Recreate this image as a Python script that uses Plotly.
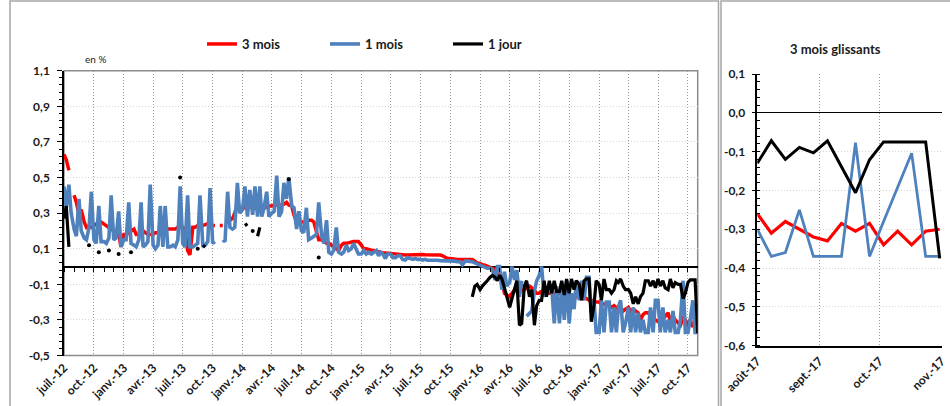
import pandas as pd
import plotly.graph_objects as go

# ---------------- data (main chart) ----------------
# four readings per month (around the 1st, 8th, 16th and 23rd), July 2012 -> October 2017
mois3 = [
    [0.63, 0.60, 0.54, None], [0.40, 0.36, 0.29, 0.32], [0.25, 0.22, 0.23, 0.22],
    [0.23, 0.24, 0.25, 0.25], [0.24, 0.23, 0.22, 0.21], [0.20, 0.20, 0.19, 0.11],
    [0.18, 0.18, 0.19, 0.20], [0.21, 0.18, 0.18, 0.19], [0.20, 0.19, 0.18, 0.18],
    [0.18, 0.19, 0.19, 0.20], [0.20, 0.20, 0.21, 0.21], [0.21, 0.21, 0.22, 0.22],
    [0.22, 0.21, 0.09, 0.065], [0.22, 0.22, 0.23, 0.23], [0.23, 0.235, 0.24, 0.23],
    [0.23, 0.23, None, 0.23], [0.23, None, 0.24, 0.26], [0.27, 0.30, 0.355, 0.33],
    [0.33, 0.33, 0.33, 0.335], [0.33, 0.325, 0.32, 0.32], [0.32, 0.33, 0.336, 0.34],
    [0.34, 0.345, 0.345, 0.345], [0.345, 0.35, 0.36, 0.345], [0.34, 0.29, 0.25, 0.25],
    [0.25, 0.25, 0.25, 0.26], [0.26, 0.25, 0.205, 0.15], [0.15, 0.14, 0.13, 0.13],
    [0.12, 0.11, 0.10, 0.09], [0.12, 0.13, 0.13, 0.134], [0.135, 0.14, 0.14, 0.14],
    [0.12, 0.10, 0.10, 0.095], [0.092, 0.09, 0.085, 0.082], [0.08, 0.078, 0.076, 0.074],
    [0.074, 0.07, 0.07, 0.068], [0.066, 0.064, 0.064, 0.065], [0.066, 0.068, 0.07, 0.07],
    [0.07, 0.068, 0.066, 0.066], [0.065, 0.064, 0.064, 0.064], [0.064, 0.06, 0.05, 0.045],
    [0.045, 0.042, 0.04, 0.04], [0.04, 0.04, 0.04, 0.04], [0.04, 0.04, 0.03, 0.02],
    [0.017, 0.01, 0.008, 0.0], [-0.005, -0.01, -0.016, -0.04], [-0.05, -0.075, -0.15, -0.16],
    [-0.17, -0.15, -0.13, -0.14], [-0.14, -0.135, -0.13, -0.12], [-0.11, -0.12, -0.14, -0.15],
    [-0.15, -0.14, -0.15, -0.15], [-0.15, -0.15, -0.15, -0.15], [-0.15, -0.16, -0.16, -0.16],
    [-0.16, -0.16, -0.17, -0.17], [-0.17, -0.18, -0.18, -0.18], [-0.19, -0.19, -0.20, -0.20],
    [-0.20, -0.21, -0.21, -0.21], [-0.22, -0.23, -0.22, -0.23], [-0.24, -0.23, -0.25, -0.24],
    [-0.23, -0.25, -0.24, -0.25], [-0.26, -0.30, -0.27, -0.26], [-0.26, -0.28, -0.30, -0.30],
    [-0.31, -0.30, -0.26, -0.28], [-0.26, -0.31, -0.28, -0.30], [-0.32, -0.33, -0.29, -0.30],
    [-0.34, -0.30, -0.34, -0.31],
]
mois3_fin = -0.30

mois1 = [
    [0.45, 0.33, 0.46, 0.30], [0.21, 0.17, 0.38, 0.20], [0.16, 0.15, 0.22, 0.42],
    [0.15, 0.13, 0.34, 0.14], [0.14, 0.13, 0.16, 0.40], [0.15, 0.16, 0.31, 0.11],
    [0.15, 0.15, 0.36, 0.13], [0.12, 0.11, 0.15, 0.36], [0.11, 0.12, 0.14, 0.46],
    [0.12, 0.10, 0.12, 0.34], [0.11, 0.34, 0.11, 0.11], [0.12, 0.11, 0.15, 0.45],
    [0.13, 0.11, 0.40, 0.11], [0.11, 0.12, 0.13, 0.40], [0.11, 0.12, 0.14, 0.44],
    [0.13, 0.14, None, None], [0.15, 0.14, 0.42, 0.22], [0.21, 0.22, 0.47, 0.30],
    [0.32, 0.45, 0.28, 0.43], [0.29, 0.45, 0.28, 0.45], [0.28, 0.33, 0.42, 0.28],
    [0.30, 0.31, 0.51, 0.28], [0.31, 0.47, 0.38, 0.50], [0.34, 0.33, 0.21, 0.31],
    [0.20, 0.19, 0.33, 0.15], [0.16, 0.17, 0.18, 0.36], [0.17, 0.13, 0.26, 0.08],
    [0.07, 0.09, 0.22, 0.08], [0.07, 0.08, 0.12, 0.09], [0.10, 0.13, 0.10, 0.07],
    [0.07, 0.09, 0.07, 0.08], [0.07, 0.08, 0.09, 0.06], [0.08, 0.07, 0.045, 0.07],
    [0.07, 0.05, 0.05, 0.06], [0.06, 0.04, 0.036, 0.05], [0.045, 0.04, 0.045, 0.04],
    [0.04, 0.036, 0.04, 0.035], [0.035, 0.036, 0.033, 0.035], [0.033, 0.033, 0.03, 0.03],
    [0.03, 0.028, 0.03, 0.027], [0.027, 0.01, 0.03, 0.03], [0.03, 0.027, 0.02, 0.015],
    [0.01, 0.0, -0.005, -0.01], [-0.01, -0.016, -0.076, 0.0], [0.0, -0.13, -0.03, -0.11],
    [-0.09, 0.0, -0.076, -0.02], [-0.17, -0.08, None, -0.28], [-0.26, -0.25, -0.14, -0.08],
    [-0.05, 0.0, -0.17, -0.13], [-0.10, -0.11, -0.32, -0.11], [-0.32, -0.12, -0.30, -0.08],
    [-0.32, -0.15, -0.24, -0.08], [-0.19, -0.08, -0.19, -0.06], [-0.06, -0.26, -0.19, -0.37],
    [-0.37, -0.19, -0.37, -0.20], [-0.20, -0.37, -0.23, -0.37], [-0.23, -0.19, -0.37, -0.32],
    [-0.23, -0.37, -0.23, -0.37], [-0.26, -0.37, -0.30, -0.37], [-0.37, -0.23, -0.37, -0.19],
    [-0.19, -0.37, -0.23, -0.37], [-0.30, -0.37, -0.25, -0.37], [-0.37, -0.30, -0.08, -0.37],
    [-0.37, -0.30, -0.19, -0.37],
]
mois1_fin = -0.37

N = None
jour1 = [
    [0.27, 0.34, 0.11, N], [N, N, N, N], [N, N, 0.12, N], [N, N, 0.08, N],
    [N, N, 0.09, N], [N, N, 0.07, N], [N, N, N, 0.08], [N, N, N, N],
    [N, N, N, N], [N, N, N, N], [N, N, N, N], [N, N, N, 0.50],
    [N, N, N, N], [N, N, 0.10, N], [0.12, 0.11, N, N], [N, N, N, N],
    [N, N, N, N], [N, N, N, N], [N, 0.23, 0.24, N], [0.20, N, 0.17, 0.22],
    [N, N, N, N], [N, N, N, N], [N, N, N, 0.49], [N, N, N, N],
    [N, N, N, N], [N, N, N, 0.05], [N, N, N, N], [N, N, N, N],
    [N, N, N, N], [N, N, N, N], [N, N, N, N], [N, N, N, N],
    [N, N, N, N], [N, N, N, N], [N, N, N, N], [N, N, N, N],
    [N, N, N, N], [N, N, N, N], [N, N, N, N], [N, N, N, N],
    [N, N, N, N], [N, -0.17, -0.11, -0.10],
    [-0.13, -0.11, -0.09, -0.08], [-0.06, -0.05, -0.06, -0.08], [-0.05, -0.07, -0.12, -0.17],
    [-0.23, -0.18, -0.12, -0.08], [-0.33, -0.32, -0.11, -0.08], [-0.17, -0.13, -0.33, -0.22],
    [-0.19, -0.19, -0.08, -0.17], [-0.08, -0.15, -0.08, -0.14], [-0.14, -0.08, -0.16, -0.07],
    [-0.15, -0.07, -0.13, -0.08], [-0.10, -0.19, -0.08, -0.07], [-0.07, -0.31, -0.22, -0.08],
    [-0.10, -0.19, -0.07, -0.13], [-0.13, -0.15, -0.13, -0.08], [-0.09, -0.07, -0.11, -0.13],
    [-0.13, -0.15, -0.21, -0.17], [-0.21, -0.17, -0.15, -0.08], [-0.08, -0.11, -0.08, -0.12],
    [-0.07, -0.11, -0.08, -0.12], [-0.13, -0.07, -0.12, -0.09], [-0.10, -0.10, -0.18, -0.15],
    [-0.09, -0.075, -0.075, -0.075],
]
jour1_fin = -0.375

x_ticktext = ["juil.-12", "oct.-12", "janv.-13", "avr.-13", "juil.-13", "oct.-13",
              "janv.-14", "avr.-14", "juil.-14", "oct.-14", "janv.-15", "avr.-15",
              "juil.-15", "oct.-15", "janv.-16", "avr.-16", "juil.-16", "oct.-16",
              "janv.-17", "avr.-17", "juil.-17", "oct.-17"]
y_tickvals = [-0.5, -0.3, -0.1, 0.1, 0.3, 0.5, 0.7, 0.9, 1.1]
y_ticktext = ["-0,5", "-0,3", "-0,1", "0,1", "0,3", "0,5", "0,7", "0,9", "1,1"]

# ---------------- data (3 mois glissants) ----------------
glis_3m = [-0.26, -0.31, -0.28, -0.30, -0.32, -0.33, -0.285, -0.305, -0.285, -0.34, -0.305, -0.34, -0.305, -0.30]
glis_1m = [-0.30, -0.37, -0.36, -0.25, -0.37, -0.37, -0.37, -0.077, -0.37, -0.28, -0.19, -0.104, -0.37, -0.37]
glis_1j = [-0.13, -0.072, -0.12, -0.089, -0.103, -0.072, -0.139, -0.206, -0.121, -0.075, -0.075, -0.075, -0.075, -0.375]
glis_tickvals = ["2017-08-01", "2017-09-01", "2017-10-01", "2017-11-01"]
glis_ticktext = ["août-17", "sept.-17", "oct.-17", "nov.-17"]
glis_yvals = [0.1, 0.0, -0.1, -0.2, -0.3, -0.4, -0.5, -0.6]
glis_ytext = ["0,1", "0,0", "-0,1", "-0,2", "-0,3", "-0,4", "-0,5", "-0,6"]

# ---------------- build ----------------
months = pd.date_range("2012-07-01", "2017-10-01", freq="MS")
dates = [m + pd.Timedelta(days=d) for m in months for d in (0, 7, 15, 22)] + [pd.Timestamp("2017-10-31")]


def flat(rows, last):
    return [v for r in rows for v in r] + [last]


v3 = flat(mois3, mois3_fin)
v1 = flat(mois1, mois1_fin)
vj = flat(jour1, jour1_fin)
assert len(v3) == len(v1) == len(vj) == len(dates)

iso_x, iso_y = [], []
for i, v in enumerate(vj):
    if v is None:
        continue
    p = vj[i - 1] if i > 0 else None
    n = vj[i + 1] if i < len(vj) - 1 else None
    if p is None and n is None:
        iso_x.append(dates[i])
        iso_y.append(v)

quarter_ticks = pd.date_range("2012-07-01", "2017-10-01", freq="3MS")
glis_dates = pd.date_range("2017-08-01", periods=len(glis_3m), freq="7D")

W, H = 950, 406
RED, BLUE, BLACK = "#ff0000", "#4f81bd", "#000000"
FONT = "Lato"
VGRID, HGRID, DOTS = "#9a9a9a", "#d4d4d4", "1px,2px"

mx0, mx1, my_top, my_bot = 64, 697.7, 70.7, 355.5
rx0, rx1, ry_top, ry_bot = 757.3, 941.7, 74, 345.7
main_ydom = [1 - my_bot / H, 1 - my_top / H]
zero_pos = main_ydom[0] + (0.5 / 1.6) * (main_ydom[1] - main_ydom[0])

fig = go.Figure()
fig.add_trace(go.Scatter(x=dates, y=v3, name="3 mois", mode="lines",
                         line=dict(color=RED, width=3.5)))
fig.add_trace(go.Scatter(x=dates, y=v1, name="1 mois", mode="lines",
                         line=dict(color=BLUE, width=3.6)))
fig.add_trace(go.Scatter(x=dates, y=vj, name="1 jour", mode="lines",
                         line=dict(color=BLACK, width=3.2)))
fig.add_trace(go.Scatter(x=iso_x, y=iso_y, mode="markers", showlegend=False,
                         marker=dict(color=BLACK, size=4)))
# dummy trace for the monthly ticks on the zero line
fig.add_trace(go.Scatter(x=[dates[0]], y=[None], xaxis="x3", yaxis="y",
                         showlegend=False, hoverinfo="skip"))

fig.add_trace(go.Scatter(x=glis_dates, y=glis_3m, mode="lines", showlegend=False,
                         line=dict(color=RED, width=3.2), xaxis="x2", yaxis="y2"))
fig.add_trace(go.Scatter(x=glis_dates, y=glis_1m, mode="lines", showlegend=False,
                         line=dict(color=BLUE, width=2.8), xaxis="x2", yaxis="y2"))
fig.add_trace(go.Scatter(x=glis_dates, y=glis_1j, mode="lines", showlegend=False,
                         line=dict(color=BLACK, width=3), xaxis="x2", yaxis="y2"))

tickfont = dict(family=FONT, size=12, color="#1a1a1a", weight="bold")
xrange_main = ["2012-07-01", "2017-10-31"]

fig.update_layout(
    width=W, height=H,
    margin=dict(l=0, r=0, t=0, b=0, autoexpand=False),
    paper_bgcolor="white", plot_bgcolor="white",
    font=dict(family=FONT, color="#1a1a1a"),
    showlegend=True,
    hovermode=False,
    legend=dict(orientation="h", x=202 / W, y=1 - 44 / H, xanchor="left", yanchor="middle",
                font=dict(family=FONT, size=13, color="#1a1a1a", weight="bold"),
                bgcolor="rgba(0,0,0,0)", itemwidth=30, entrywidth=78, tracegroupgap=0),
    xaxis=dict(domain=[mx0 / W, mx1 / W], anchor="y", type="date", range=xrange_main,
               automargin=False,
               tickmode="array", tickvals=list(quarter_ticks), ticktext=x_ticktext,
               tickangle=-45, tickfont=tickfont, ticks="", showline=False,
               ticklabelstandoff=2,
               showgrid=True, gridcolor=VGRID, griddash=DOTS, gridwidth=1,
               zeroline=False),
    yaxis=dict(domain=main_ydom, anchor="x", range=[-0.5, 1.1], automargin=False,
               tickmode="array", tickvals=y_tickvals, ticktext=y_ticktext,
               tickfont=tickfont, ticks="outside", ticklen=5, tickcolor="black",
               ticklabelstandoff=5,
               showline=True, linecolor="black", linewidth=1.5,
               showgrid=True, gridcolor=HGRID, griddash=DOTS, gridwidth=1,
               zeroline=True, zerolinecolor="black", zerolinewidth=1.5,
               minor=dict(tickmode="linear", tick0=-0.5, dtick=0.04, ticks="outside",
                          ticklen=3, tickcolor="black", showgrid=False)),
    xaxis3=dict(overlaying="x", anchor="free", position=zero_pos, side="bottom",
                type="date", range=xrange_main, tickmode="linear", tick0="2012-07-01",
                automargin=False,
                dtick="M1", ticks="outside", ticklen=4, tickcolor="black",
                showticklabels=False, showgrid=False, showline=False, zeroline=False),
    xaxis2=dict(domain=[rx0 / W, rx1 / W], anchor="y2", type="date",
                range=["2017-08-01", "2017-11-01"], automargin=False,
                tickmode="array", tickvals=glis_tickvals, ticktext=glis_ticktext,
                tickangle=-45, tickfont=tickfont, ticks="", ticklabelstandoff=2,
                showline=True, linecolor="black", linewidth=1.5,
                showgrid=True, gridcolor=VGRID, griddash=DOTS, gridwidth=1,
                zeroline=False),
    yaxis2=dict(domain=[1 - ry_bot / H, 1 - ry_top / H], anchor="x2", range=[-0.6, 0.1],
                automargin=False,
                tickmode="array", tickvals=glis_yvals, ticktext=glis_ytext,
                tickfont=tickfont, ticks="outside", ticklen=4, tickcolor="black",
                ticklabelstandoff=4,
                showline=True, linecolor="black", linewidth=1.5,
                showgrid=True, gridcolor=HGRID, griddash=DOTS, gridwidth=1,
                zeroline=True, zerolinecolor="black", zerolinewidth=1,
                minor=dict(tickmode="linear", tick0=0, dtick=0.02, ticks="inside",
                           ticklen=3, tickcolor="black", showgrid=False)),
    shapes=[
        dict(type="rect", xref="paper", yref="paper", x0=10 / W, x1=718.5 / W,
             y0=-0.05, y1=1 - 1 / H, line=dict(color="#a6a6a6", width=1.5), layer="below"),
        dict(type="rect", xref="paper", yref="paper", x0=721 / W, x1=1.05,
             y0=-0.05, y1=1 - 1 / H, line=dict(color="#a6a6a6", width=1.5), layer="below"),
        dict(type="rect", xref="x domain", yref="y domain", x0=0, x1=1, y0=0, y1=1,
             line=dict(color="#8c8c8c", width=1.5), layer="below"),
    ],
    annotations=[
        dict(text="en %", x=95 / W, y=1 - 59 / H, xref="paper", yref="paper",
             xanchor="center", yanchor="middle",
             showarrow=False, font=dict(family=FONT, size=10, color="#1a1a1a")),
        dict(text="3 mois glissants", x=835 / W, y=1 - 49 / H, xref="paper", yref="paper",
             xanchor="center", yanchor="middle",
             showarrow=False, font=dict(family=FONT, size=13, color="#1a1a1a", weight="bold")),
    ],
)

fig.write_html("out.html", config={"displayModeBar": False},
               post_script="document.body.style.margin='0px';")
